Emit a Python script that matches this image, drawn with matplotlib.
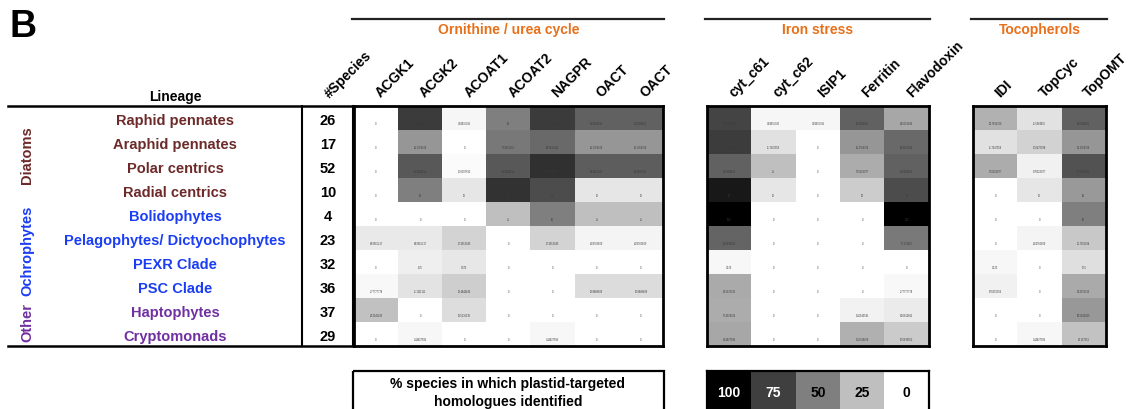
import numpy as np
import matplotlib.pyplot as plt
from matplotlib.transforms import ScaledTranslation

# lineages and number of species sampled in each
lineages = ['Raphid pennates', 'Araphid pennates', 'Polar centrics', 'Radial centrics',
            'Bolidophytes', 'Pelagophytes/ Dictyochophytes', 'PEXR Clade', 'PSC Clade',
            'Haptophytes', 'Cryptomonads']
n_species = [26, 17, 52, 10, 4, 23, 32, 36, 37, 29]
lineage_colors = ['#6d2a2a'] * 4 + ['#1a3df5'] * 4 + ['#7030a0'] * 2

# species with a plastid-targeted homologue, per gene (rows follow lineages)
orn_genes = ['ACGK1', 'ACGK2', 'ACOAT1', 'ACOAT2', 'NAGPR', 'OACT', 'OACT']
orn_counts = [[0, 20, 1, 13, 20, 16, 16],
              [0, 7, 0, 9, 10, 7, 7],
              [0, 34, 1, 34, 42, 33, 33],
              [0, 5, 1, 8, 7, 1, 1],
              [0, 0, 0, 1, 2, 1, 1],
              [2, 2, 4, 0, 4, 1, 1],
              [0, 2, 3, 0, 0, 0, 0],
              [1, 4, 7, 0, 0, 5, 5],
              [9, 0, 5, 0, 0, 0, 0],
              [0, 1, 0, 0, 1, 0, 0]]

iron_genes = ['cyt_c61', 'cyt_c62', 'ISIP1', 'Ferritin', 'Flavodoxin']
iron_counts = [[19, 1, 1, 16, 9],
               [13, 2, 0, 7, 10],
               [32, 13, 0, 17, 32],
               [9, 1, 0, 2, 7],
               [4, 0, 0, 0, 4],
               [14, 0, 0, 0, 12],
               [1, 0, 0, 0, 0],
               [12, 0, 0, 0, 1],
               [12, 0, 0, 2, 3],
               [10, 0, 0, 9, 6]]

toco_genes = ['IDI', 'TopCyc', 'TopOMT']
toco_counts = [[8, 3, 16],
               [2, 3, 7],
               [17, 3, 35],
               [0, 1, 4],
               [0, 0, 2],
               [0, 1, 5],
               [1, 0, 4],
               [2, 0, 12],
               [0, 0, 15],
               [0, 1, 7]]

legend_levels = [100, 75, 50, 25, 0]

plt.rcParams['font.family'] = ['Liberation Sans', 'DejaVu Sans']
plt.rcParams['font.weight'] = 'bold'

W, H = 1129, 410
fig = plt.figure(figsize=(W / 100, H / 100), dpi=100)
shift = ScaledTranslation(7 / 100, 0, fig.dpi_scale_trans)

def px_axes(x0, y0, x1, y1):
    return fig.add_axes([x0 / W, 1 - y1 / H, (x1 - x0) / W, (y1 - y0) / H])

# overlay in pixel coordinates for the table and headings
ov = fig.add_axes([0, 0, 1, 1])
ov.set_xlim(0, W)
ov.set_ylim(H, 0)
ov.axis('off')

top, bot, row_h = 107, 347, 24.0
ov.text(10, 27, 'B', fontsize=27, va='center', ha='left')
ov.text(175, 97, 'Lineage', fontsize=10, ha='center', va='center')
ov.text(325, 101, '#Species', fontsize=10, rotation=45, ha='left', va='bottom',
        rotation_mode='anchor', transform=ov.transData + shift)
ov.plot([8, 353], [top, top], color='black', lw=1.8)
ov.plot([8, 353], [bot, bot], color='black', lw=1.8)
ov.plot([302, 302], [top, bot], color='black', lw=1.5)
ov.plot([353, 353], [top, bot], color='black', lw=1.5)
for i, (name, n, c) in enumerate(zip(lineages, n_species, lineage_colors)):
    y = top + row_h * (i + 0.5) + 2
    ov.text(175, y, name, color=c, fontsize=10.5, ha='center', va='center')
    ov.text(328, y, str(n), color='black', fontsize=10.5, ha='center', va='center')

ov.text(27, top + row_h * 2, 'Diatoms', color='#6d2a2a', fontsize=10.5, rotation=90,
        ha='center', va='center')
ov.text(27, top + row_h * 6, 'Ochrophytes', color='#1a3df5', fontsize=10.5, rotation=90,
        ha='center', va='center')
ov.text(27, top + row_h * 9, 'Other', color='#7030a0', fontsize=10.5, rotation=90,
        ha='center', va='center')

def heat(x0, x1, counts, genes, title):
    ax = px_axes(x0, top, x1, bot)
    pct = np.array(counts) / np.array(n_species)[:, None] * 100
    ax.imshow(pct, cmap='gray_r', vmin=0, vmax=100, aspect='auto', interpolation='nearest')
    for i in range(pct.shape[0]):
        for j in range(pct.shape[1]):
            ax.text(j, i + 0.22, f'{pct[i, j]:.9g}', fontsize=1.8, fontweight='normal',
                    ha='center', va='center', color='#3a3a3a')
    ax.set_xticks(range(len(genes)))
    ax.set_xticklabels(genes, rotation=45, ha='left', rotation_mode='anchor', fontsize=10)
    ax.xaxis.tick_top()
    ax.tick_params(length=0, pad=5)
    for lab in ax.get_xticklabels():
        lab.set_transform(lab.get_transform() + shift)
    ax.set_yticks([])
    for s in ax.spines.values():
        s.set_linewidth(2)
    ov.plot([x0 - 2, x1 + 1], [20, 20], color='#222222', lw=1.6)
    ov.text((x0 + x1) / 2, 30, title, color='#e8701a', fontsize=10, ha='center', va='center')

heat(354, 663, orn_counts, orn_genes, 'Ornithine / urea cycle')
heat(707, 929, iron_counts, iron_genes, 'Iron stress')
heat(973, 1106, toco_counts, toco_genes, 'Tocopherols')

# legend
ov.add_patch(plt.Rectangle((353, 372), 311, 45, fill=False, lw=1.6, ec='black'))
ov.text(508, 393, '% species in which plastid-targeted\nhomologues identified',
        fontsize=10, ha='center', va='center', linespacing=1.35)

lax = px_axes(707, 372, 929, 416)
lax.imshow([legend_levels], cmap='gray_r', vmin=0, vmax=100, aspect='auto')
for j, v in enumerate(legend_levels):
    lax.text(j, -0.02, str(v), fontsize=10, ha='center', va='center',
             color='white' if v >= 75 else 'black')
lax.set_xticks([])
lax.set_yticks([])
for s in lax.spines.values():
    s.set_linewidth(1.6)

fig.savefig('out.png', dpi=100)
